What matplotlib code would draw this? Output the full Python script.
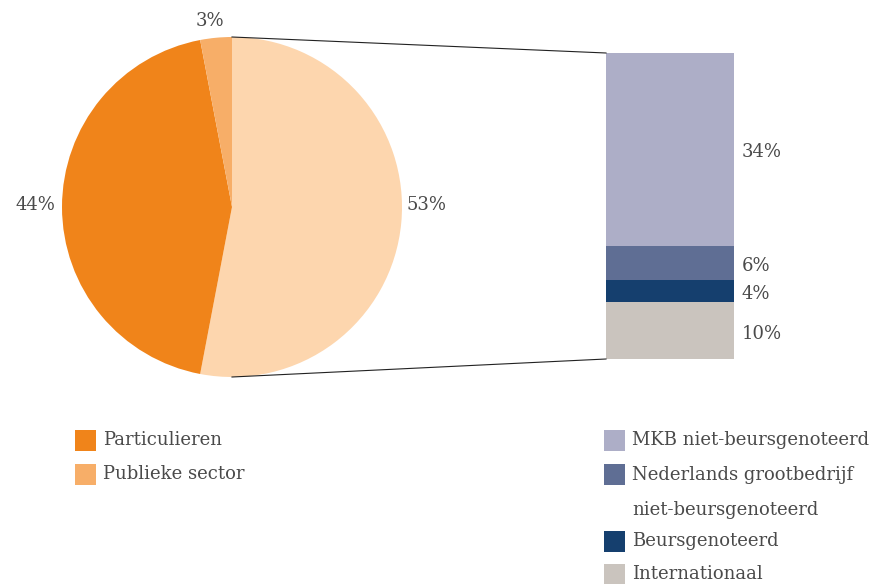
import matplotlib.pyplot as plt
from matplotlib.patches import Rectangle

# pie data
pie_labels = ['Bedrijven', 'Particulieren', 'Publieke sector']
pie_values = [53, 44, 3]
pie_colors = ['#FDD6AE', '#F0841A', '#F7AE68']

# bar data (breakdown of bedrijven)
bar_labels = ['MKB niet-beursgenoteerd', 'Nederlands grootbedrijf\nniet-beursgenoteerd',
              'Beursgenoteerd', 'Internationaal']
bar_values = [34, 6, 4, 10]
bar_colors = ['#ADAEC7', '#5F6E94', '#153F6E', '#CAC4BE']

W, H = 876, 584
txt = '#4a4a4a'
font = 'DejaVu Serif'
fs = 13

fig = plt.figure(figsize=(W / 100, H / 100), dpi=100)
ax = fig.add_axes([0, 0, 1, 1])

# pie
cx, cy, r = 232, H - 207, 170
ax.pie(pie_values, colors=pie_colors, startangle=90, counterclock=False,
       center=(cx, cy), radius=r, frame=True, wedgeprops=dict(linewidth=0))
ax.set_xlim(0, W)
ax.set_ylim(0, H)
ax.set_aspect('equal')
ax.axis('off')

# pie labels
ax.text(407, H - 205, f'{pie_values[0]}%', ha='left', va='center', fontsize=fs, color=txt, family=font)
ax.text(55, H - 205, f'{pie_values[1]}%', ha='right', va='center', fontsize=fs, color=txt, family=font)
ax.text(210, H - 21, f'{pie_values[2]}%', ha='center', va='center', fontsize=fs, color=txt, family=font)

# stacked bar
bx, bw = 670, 128
scale = 306 / sum(bar_values)
top = H - 53
bottom = top
for v, c in zip(bar_values, bar_colors):
    bottom -= v * scale
    ax.bar(bx, v * scale, width=bw, bottom=bottom, color=c, linewidth=0)
    ax.text(bx + bw / 2 + 8, bottom + v * scale / 2 - 3, f'{v}%', ha='left', va='center',
            fontsize=fs, color=txt, family=font)

# connecting lines
ax.plot([cx, bx - bw / 2], [cy + r, top], color='#222222', lw=0.8)
ax.plot([cx, bx - bw / 2], [cy - r, bottom], color='#222222', lw=0.8)

# legends
def legend_item(x, y, color, label):
    ax.add_patch(Rectangle((x, H - y - 10.5), 21, 21, color=color, linewidth=0))
    if '\n' in label:
        ax.text(x + 28, H - y + 8, label, ha='left', va='top', fontsize=fs, color=txt,
                family=font, linespacing=2.2)
    else:
        ax.text(x + 28, H - y, label, ha='left', va='center', fontsize=fs, color=txt, family=font)

legend_item(75, 440, pie_colors[1], pie_labels[1])
legend_item(75, 474, pie_colors[2], pie_labels[2])

ys = [440, 474, 541, 574]
for y, c, lab in zip(ys, bar_colors, bar_labels):
    legend_item(604, y, c, lab)

fig.savefig('out.png', dpi=100)
